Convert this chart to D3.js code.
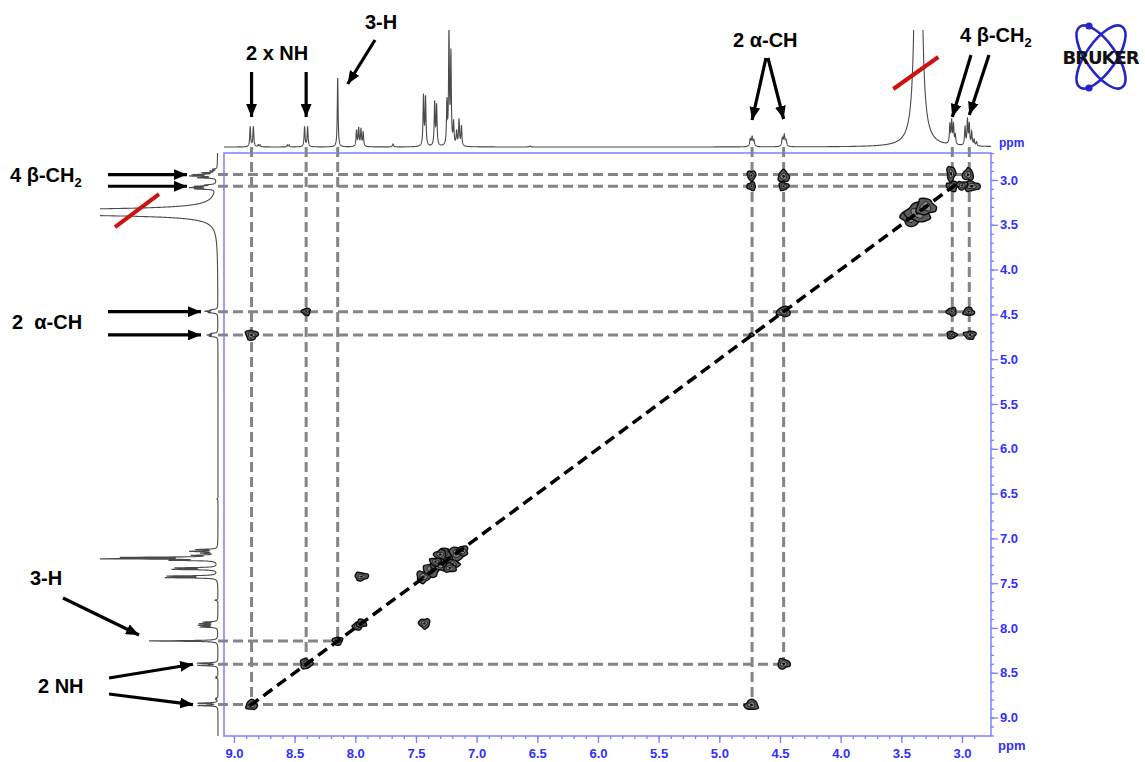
<!DOCTYPE html>
<html><head><meta charset="utf-8">
<script src="https://cdn.jsdelivr.net/npm/d3@7/dist/d3.min.js"></script>
<style>
html,body{margin:0;padding:0;background:#fff;}
svg{display:block;font-family:"Liberation Sans",Arial,sans-serif;}
</style></head><body>
<svg id="chart" width="1145" height="762"></svg>
<script>
// ---- 1H spectrum: line positions (ppm), intensities, half-widths (ppm)
const linePpm    = [8.866, 8.840, 8.800, 8.785, 8.560, 8.545, 8.418, 8.393, 8.145,
                    7.990, 7.972, 7.953, 7.935, 7.690, 7.438, 7.421, 7.346, 7.330,
                    7.245, 7.228, 7.212, 7.190, 7.165, 7.145, 7.125, 6.560,
                    4.745, 4.730, 4.715, 4.480, 4.465, 4.450, 3.360,
                    3.100, 3.085, 3.070, 3.055, 2.975, 2.955, 2.940, 2.920, 2.900, 2.880];
const lineHeight = [20, 20, 2, 2, 2, 2, 20, 20, 69,
                    16, 18, 17, 14, 3, 50, 48, 43, 40,
                    42, 112, 90, 22, 14, 26, 20, 1,
                    7, 9, 6, 8, 11, 6, 7000,
                    19, 23, 19, 9, 18, 25, 21, 13, 6, 4];
const lineWidth  = [0.0045, 0.0045, 0.004, 0.004, 0.004, 0.004, 0.0045, 0.0045, 0.004,
                    0.0045, 0.0045, 0.0045, 0.0045, 0.005, 0.0045, 0.0045, 0.0045, 0.0045,
                    0.004, 0.004, 0.004, 0.0045, 0.0045, 0.0045, 0.0045, 0.005,
                    0.006, 0.006, 0.006, 0.006, 0.006, 0.006, 0.005,
                    0.0045, 0.0045, 0.0045, 0.0045, 0.0045, 0.0045, 0.0045, 0.0045, 0.0045, 0.0045];

// ---- assigned shifts used for the correlation guides
const shiftLabels = ["NH", "NH", "3-H", "α-CH", "α-CH", "β-CH2", "β-CH2"];
const shiftPpm    = [8.855, 8.405, 8.145, 4.730, 4.470, 3.080, 2.940];

// vertical guides: F2 shift -> F1 end
const vGuideF2 = [8.855, 8.405, 8.145, 4.730, 4.470, 3.080, 2.940];
const vGuideEnd = [8.855, 8.405, 8.145, 8.855, 8.405, 4.730, 4.730];
// horizontal guides: F1 shift -> F2 end
const hGuideF1 = [2.940, 3.070, 4.470, 4.730, 8.145, 8.405, 8.855];
const hGuideEnd = [2.940, 2.940, 2.940, 2.940, 8.145, 4.470, 4.730];

// diagonal guide extent (ppm)
const diagFrom = 8.87, diagTo = 3.05;

// ---- COSY contour blobs: F2 ppm, F1 ppm, half-extent F2 (ppm), half-extent F1 (ppm)
const crossF2 = [8.855, 8.405, 8.145, 7.985, 7.950,
                 7.440, 7.370, 7.300, 7.230, 7.160, 7.115, 7.270, 7.200, 7.340, 7.300, 7.220,
                 7.950, 7.430, 4.470, 4.735,
                 8.855, 8.405, 4.735, 4.470,
                 4.735, 4.735, 4.470, 4.470,
                 3.420, 3.360, 3.300,
                 3.090, 3.080, 2.950, 2.920, 3.000,
                 3.085, 2.945, 3.085, 2.935];
const crossF1 = [8.860, 8.400, 8.145, 7.980, 7.950,
                 7.430, 7.350, 7.280, 7.220, 7.170, 7.140, 7.170, 7.290, 7.260, 7.180, 7.330,
                 7.425, 7.950, 4.470, 4.730,
                 4.730, 4.470, 8.860, 8.400,
                 2.950, 3.070, 2.960, 3.070,
                 3.420, 3.360, 3.300,
                 2.930, 3.070, 2.940, 3.070, 3.060,
                 4.470, 4.470, 4.730, 4.730];
const crossW2 = [0.045, 0.050, 0.040, 0.035, 0.040,
                 0.055, 0.065, 0.075, 0.075, 0.065, 0.045, 0.055, 0.055, 0.045, 0.050, 0.050,
                 0.055, 0.045, 0.055, 0.020,
                 0.050, 0.035, 0.055, 0.050,
                 0.035, 0.035, 0.045, 0.040,
                 0.080, 0.100, 0.080,
                 0.035, 0.045, 0.045, 0.065, 0.045,
                 0.040, 0.045, 0.040, 0.050];
const crossW1 = [0.055, 0.055, 0.045, 0.045, 0.045,
                 0.065, 0.075, 0.085, 0.085, 0.075, 0.055, 0.055, 0.055, 0.045, 0.050, 0.050,
                 0.045, 0.055, 0.055, 0.020,
                 0.055, 0.040, 0.055, 0.055,
                 0.055, 0.045, 0.065, 0.045,
                 0.090, 0.110, 0.090,
                 0.085, 0.055, 0.065, 0.055, 0.045,
                 0.045, 0.045, 0.040, 0.045];

// ---- axis ticks
const majorTicks = [9.0, 8.5, 8.0, 7.5, 7.0, 6.5, 6.0, 5.5, 5.0, 4.5, 4.0, 3.5, 3.0];
const minorTicksX = d3.range(29, 91).map(v => v / 10);
const minorTicksY = d3.range(27, 93).map(v => v / 10);

// ---- layout
const plot = {left: 224, right: 991, top: 153, bottom: 736};
const blue = "#2f2fff", frameBlue = "#7f7fff";

const svg = d3.select("#chart");

const x = d3.scaleLinear().domain([9.082, 2.761]).range([plot.left, plot.right]);
const y = d3.scaleLinear().domain([2.699, 9.206]).range([plot.top, plot.bottom]);

// projection intensity scales
const topI = d3.scaleLinear().domain([0, 117]).range([147, 30]);
const leftI = d3.scaleLinear().domain([0, 118]).range([218, 100]);

function intensity(d) {
  let s = 0;
  for (let i = 0; i < linePpm.length; i++) {
    const w = lineWidth[i], dd = d - linePpm[i];
    s += lineHeight[i] * w * w / (dd * dd + w * w);
  }
  return s;
}

const defs = svg.append("defs");
defs.append("clipPath").attr("id", "clipTop")
  .append("rect").attr("x", plot.left - 1).attr("y", 30).attr("width", plot.right - plot.left + 2).attr("height", 125);
defs.append("clipPath").attr("id", "clipLeft")
  .append("rect").attr("x", 100).attr("y", plot.top - 2).attr("width", 122).attr("height", plot.bottom - plot.top + 2);
defs.append("marker").attr("id", "arrowHead")
  .attr("viewBox", "0 0 12 10").attr("refX", 12).attr("refY", 5)
  .attr("markerUnits", "userSpaceOnUse").attr("markerWidth", 13).attr("markerHeight", 11)
  .attr("orient", "auto")
  .append("path").attr("d", "M0,0 L12,5 L0,10 Z").attr("fill", "#000");

// ---- projections
const gridTop = d3.range(2.761, 9.082, 0.0008);
svg.append("path")
  .attr("clip-path", "url(#clipTop)")
  .attr("d", d3.line().x(d => x(d)).y(d => topI(intensity(d)))(gridTop))
  .attr("fill", "none").attr("stroke", "#4a4a4a").attr("stroke-width", 1.1);

const gridLeft = d3.range(2.699, 9.206, 0.0008);
svg.append("path")
  .attr("clip-path", "url(#clipLeft)")
  .attr("d", d3.line().x(d => leftI(intensity(d))).y(d => y(d))(gridLeft))
  .attr("fill", "none").attr("stroke", "#4a4a4a").attr("stroke-width", 1.1);

// ---- frame
svg.append("rect")
  .attr("x", plot.left).attr("y", plot.top)
  .attr("width", plot.right - plot.left).attr("height", plot.bottom - plot.top)
  .attr("fill", "none").attr("stroke", frameBlue).attr("stroke-width", 1.5);

// ---- guides
const guide = svg.append("g").attr("stroke", "#858585").attr("stroke-width", 3)
  .attr("stroke-dasharray", "10,5").attr("fill", "none");
vGuideF2.forEach((p, i) => {
  guide.append("line").attr("x1", x(p)).attr("x2", x(p))
    .attr("y1", 147).attr("y2", y(vGuideEnd[i]));
});
hGuideF1.forEach((p, i) => {
  guide.append("line").attr("y1", y(p)).attr("y2", y(p))
    .attr("x1", 218).attr("x2", x(hGuideEnd[i]));
});

// ---- contour blobs (lobed outlines give the contour-plot look)
const blobs = svg.append("g");
const ring = d3.line().curve(d3.curveCardinalClosed.tension(0.2));
function lobed(cx, cy, rx, ry, k, scale) {
  return ring(d3.range(0, 12).map(j => {
    const a = j / 12 * 2 * Math.PI;
    const r = scale * (1 + 0.16 * Math.sin(3 * a + k * 1.7) + 0.08 * Math.cos(5 * a + k));
    return [cx + rx * r * Math.cos(a), cy + ry * r * Math.sin(a)];
  }));
}
crossF2.forEach((p, i) => {
  const cx = x(p), cy = y(crossF1[i]);
  const rx = Math.abs(x(p + crossW2[i]) - cx), ry = Math.abs(y(crossF1[i] + crossW1[i]) - cy);
  blobs.append("path").attr("d", lobed(cx, cy, rx, ry, i, 1))
    .attr("fill", "#5c5c5c").attr("stroke", "#0d0d0d").attr("stroke-width", 1.4);
  blobs.append("path").attr("d", lobed(cx, cy, rx, ry, i + 3, 0.55))
    .attr("fill", "#8a8a8a").attr("stroke", "#1a1a1a").attr("stroke-width", 1);
  blobs.append("path").attr("d", lobed(cx, cy, rx, ry, i + 5, 0.25))
    .attr("fill", "#111");
});

// ---- diagonal
svg.append("line")
  .attr("x1", x(diagFrom)).attr("y1", y(diagFrom))
  .attr("x2", x(diagTo)).attr("y2", y(diagTo))
  .attr("stroke", "#000").attr("stroke-width", 3.5).attr("stroke-dasharray", "11,6");

// ---- axes
const axisColor = g => {
  g.select(".domain").remove();
  g.selectAll("line").attr("stroke", frameBlue).attr("stroke-width", 1.3);
  g.selectAll("text").attr("fill", blue).attr("font-weight", "bold").attr("font-size", 13)
    .attr("font-family", "Liberation Sans, Arial, sans-serif");
};
svg.append("g").attr("transform", `translate(0,${plot.bottom})`)
  .call(d3.axisBottom(x).tickValues(minorTicksX.filter(v => v <= 9.08)).tickSize(3).tickFormat(""))
  .call(axisColor);
svg.append("g").attr("transform", `translate(0,${plot.bottom})`)
  .call(d3.axisBottom(x).tickValues(majorTicks).tickSize(7).tickPadding(6).tickFormat(d3.format(".1f")))
  .call(axisColor);
svg.append("g").attr("transform", `translate(${plot.right},0)`)
  .call(d3.axisRight(y).tickValues(minorTicksY.filter(v => v <= 9.2)).tickSize(3).tickFormat(""))
  .call(axisColor);
svg.append("g").attr("transform", `translate(${plot.right},0)`)
  .call(d3.axisRight(y).tickValues(majorTicks).tickSize(7).tickPadding(2).tickFormat(d3.format(".1f")))
  .call(axisColor);

svg.append("text").attr("x", 998).attr("y", 750).text("ppm")
  .attr("fill", blue).attr("font-weight", "bold").attr("font-size", 13);
svg.append("text").attr("x", 999).attr("y", 147).text("ppm")
  .attr("fill", blue).attr("font-weight", "bold").attr("font-size", 12);

// ---- annotations
const ann = svg.append("g");
function arrow(x1, y1, x2, y2) {
  ann.append("line").attr("x1", x1).attr("y1", y1).attr("x2", x2).attr("y2", y2)
    .attr("stroke", "#000").attr("stroke-width", 3.2).attr("marker-end", "url(#arrowHead)");
}
function label(px, py, parts) {
  const t = ann.append("text").attr("x", px).attr("y", py)
    .attr("font-size", 20).attr("font-weight", "bold").attr("fill", "#000")
    .style("white-space", "pre");
  parts.forEach(p => {
    const s = t.append("tspan").text(p.t);
    if (p.sub) s.attr("font-size", 13).attr("dy", 5);
  });
}

// top
label(246, 60, [{t: "2 x NH"}]);
arrow(x(shiftPpm[0]), 72, x(shiftPpm[0]), 117);
arrow(x(shiftPpm[1]), 72, x(shiftPpm[1]), 117);
label(365, 29, [{t: "3-H"}]);
arrow(375, 40, x(shiftPpm[2]) + 10, 84);
label(733, 47, [{t: "2 α-CH"}]);
arrow(766, 58, x(shiftPpm[3]), 120);
arrow(768, 58, x(shiftPpm[4]), 119);
label(960, 42, [{t: "4 β-CH"}, {t: "2", sub: true}]);
arrow(971, 55, x(shiftPpm[5]), 117);
arrow(989, 55, x(shiftPpm[6]), 115);

// left
label(10, 182, [{t: "4 β-CH"}, {t: "2", sub: true}]);
arrow(108, y(2.94), 187, y(2.94));
arrow(108, y(3.07), 187, y(3.07));
label(12, 329, [{t: "2  α-CH"}]);
arrow(108, y(shiftPpm[4]), 201, y(shiftPpm[4]));
arrow(108, y(shiftPpm[3]), 201, y(shiftPpm[3]));
label(30, 585, [{t: "3-H"}]);
arrow(63, 598, 139, y(shiftPpm[2]) - 6);
label(38, 693, [{t: "2 NH"}]);
arrow(109, 678, 193, y(shiftPpm[1]));
arrow(109, 694, 193, y(shiftPpm[0]));

// truncated solvent peak marks
const waterPpm = 3.36;
ann.append("line").attr("x1", x(waterPpm) - 25).attr("y1", 89).attr("x2", x(waterPpm) + 20).attr("y2", 57)
  .attr("stroke", "#cc1111").attr("stroke-width", 4);
ann.append("line").attr("x1", 115).attr("y1", y(waterPpm) + 15).attr("x2", 159).attr("y2", y(waterPpm) - 18)
  .attr("stroke", "#cc1111").attr("stroke-width", 4);

// ---- logo
const logo = svg.append("g").attr("transform", "translate(1101,57)");
[55, -55].forEach(a => {
  logo.append("ellipse").attr("rx", 37).attr("ry", 15).attr("transform", `rotate(${a})`)
    .attr("fill", "none").attr("stroke", "#2424c8").attr("stroke-width", 2.6);
});
logo.append("circle").attr("cx", -12).attr("cy", -31).attr("r", 3.6).attr("fill", "#2424c8");
logo.append("circle").attr("cx", -12).attr("cy", 31).attr("r", 3.6).attr("fill", "#2424c8");
logo.append("text").attr("x", 0).attr("y", 7).attr("text-anchor", "middle")
  .attr("font-size", 18).attr("font-weight", "bold").attr("fill", "#111")
  .attr("font-family", "DejaVu Sans, Liberation Sans, sans-serif")
  .attr("textLength", 77).text("BRUKER");
</script>
</body></html>
